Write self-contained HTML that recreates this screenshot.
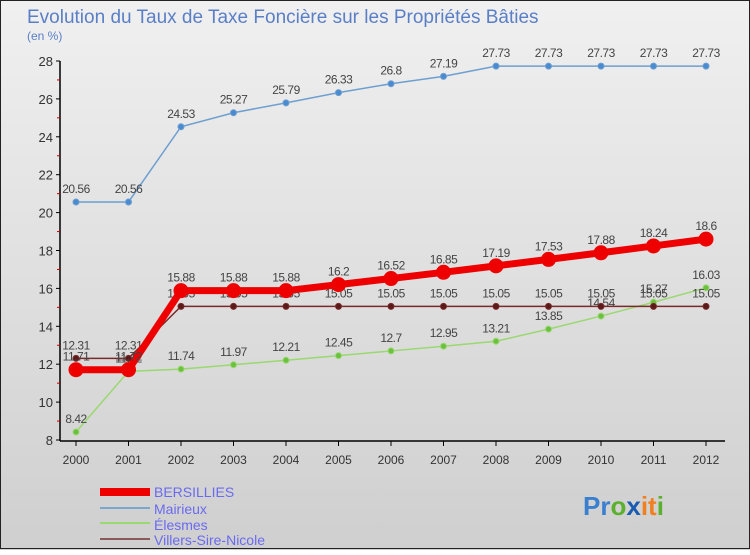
<!DOCTYPE html>
<html><head><meta charset="utf-8"><style>
body{margin:0;width:750px;height:550px;overflow:hidden;font-family:"Liberation Sans",sans-serif}
svg text{font-family:"Liberation Sans",sans-serif}
</style></head><body>
<svg id="c" width="750" height="550" xmlns="http://www.w3.org/2000/svg">
<defs><linearGradient id="bg" x1="0" y1="0" x2="0" y2="1"><stop offset="0" stop-color="#f0f0f0"/><stop offset="1" stop-color="#cfcfcf"/></linearGradient></defs>
<rect x="0" y="0" width="750" height="550" fill="url(#bg)"/>
<rect x="0.5" y="0.5" width="749" height="548" fill="none" stroke="#222"/>
<text x="27" y="23" font-size="19" fill="#5a7fc6">Evolution du Taux de Taxe Foncière sur les Propriétés Bâties</text>
<text x="27" y="40" font-size="12" fill="#5a7fc6">(en %)</text>
<g id="axes"></g><g id="series"></g>
<g>
<rect x="100" y="488" width="50" height="8" fill="#e00"/>
<text x="154" y="497" font-size="14" fill="#6a6af0">BERSILLIES</text>
<rect x="100" y="507" width="50" height="2" fill="#7aa7d0"/>
<text x="154" y="514" font-size="14" fill="#6a6af0">Mairieux</text>
<rect x="100" y="522" width="50" height="2" fill="#9ad870"/>
<text x="154" y="530" font-size="14" fill="#6a6af0">Élesmes</text>
<rect x="100" y="538" width="50" height="2" fill="#8a5a5a"/>
<text x="154" y="545" font-size="14" fill="#6a6af0">Villers-Sire-Nicole</text>
</g>
<text x="583" y="515" font-size="26" font-weight="bold"><tspan fill="#3a7fd0">Pr</tspan><tspan fill="#5cb030">o</tspan><tspan fill="#1a5ab0">x</tspan><tspan fill="#f08020">it</tspan><tspan fill="#5cb030">i</tspan></text>
</svg>
<script>
const years=[2000,2001,2002,2003,2004,2005,2006,2007,2008,2009,2010,2011,2012];
const yTicks=[8,10,12,14,16,18,20,22,24,26,28];
const bersillies=[11.71,11.71,15.88,15.88,15.88,16.2,16.52,16.85,17.19,17.53,17.88,18.24,18.6];
const bersLabels=["11.71","11.72","15.88","15.88","15.88","16.2","16.52","16.85","17.19","17.53","17.88","18.24","18.6"];
const mairieux=[20.56,20.56,24.53,25.27,25.79,26.33,26.8,27.19,27.73,27.73,27.73,27.73,27.73];
const elesmes=[8.42,11.62,11.74,11.97,12.21,12.45,12.7,12.95,13.21,13.85,14.54,15.27,16.03];
const villers=[12.31,12.31,15.05,15.05,15.05,15.05,15.05,15.05,15.05,15.05,15.05,15.05,15.05];
const NS="http://www.w3.org/2000/svg";
const X=i=>76+i*52.5, Y=v=>440-(v-8)*18.95;
function mk(t,a,p){const e=document.createElementNS(NS,t);for(const k in a)e.setAttribute(k,a[k]);p.appendChild(e);return e;}
const ax=document.getElementById('axes'), sr=document.getElementById('series');
let e=mk('line',{x1:60,y1:61,x2:60,y2:441,stroke:'#000','stroke-width':1.5},ax);

e=mk('line',{x1:60,y1:441,x2:725,y2:441,stroke:'#000','stroke-width':1.5},ax);

yTicks.forEach((v,k)=>{
 e=mk('line',{x1:56,y1:Y(v),x2:60,y2:Y(v),stroke:'#000'},ax);
 
 if(k<yTicks.length-1){
 e=mk('line',{x1:57,y1:Y(v+1),x2:60,y2:Y(v+1),stroke:'#c00'},ax);
 }
 e=mk('text',{x:53,y:Y(v)+5,'text-anchor':'end','font-size':13,fill:'#333'},ax);e.textContent=v;
 
});
years.forEach((y,i)=>{
 e=mk('line',{x1:X(i),y1:441,x2:X(i),y2:446,stroke:'#000'},ax);
 
 e=mk('text',{x:X(i),y:464,'text-anchor':'middle','font-size':12,fill:'#333'},ax);e.textContent=y;
 
});
function draw(name,vals,col,w,r,fill,labels){
 const g=mk('g',{},sr);
 
 const p=mk('polyline',{points:vals.map((v,i)=>X(i)+','+Y(v)).join(' '),fill:'none',stroke:col,'stroke-width':w},g);
 
 vals.forEach((v,i)=>{
  const c=mk('circle',{cx:X(i),cy:Y(v),r:r,fill:fill,stroke:col,'stroke-width':1},g);
  
  const t=mk('text',{x:X(i),y:Y(v)-9,'text-anchor':'middle','font-size':12,fill:'#444','letter-spacing':'-0.5'},g);
  t.textContent=labels?labels[i]:String(v);
  
 });
}
draw('mairieux',mairieux,'#6d9fd0',1.5,3,'#4a8ad0');
draw('elesmes',elesmes,'#9ad870',1.5,3,'#6cc040');
draw('villers',villers,'#7a2a2a',1.5,3,'#5a1a1a');
draw('bersillies',bersillies,'#ee0000',7,7,'#ee0000',bersLabels);
</script>
</body></html>
